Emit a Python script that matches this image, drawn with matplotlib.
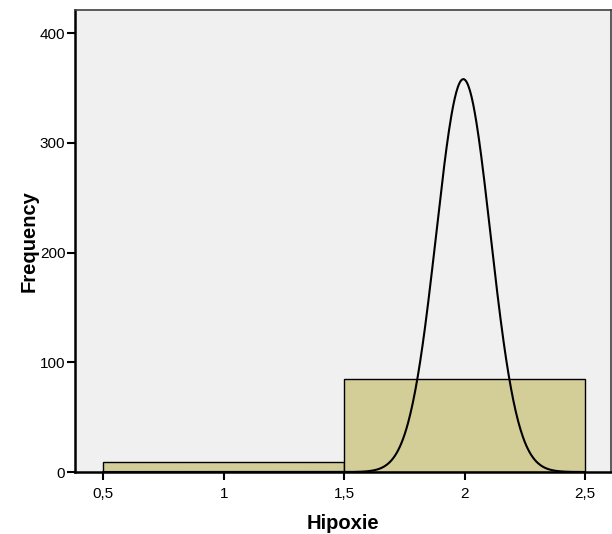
import numpy as np
import matplotlib
matplotlib.use("Agg")
import matplotlib.pyplot as plt

plt.rcParams['font.family'] = ['Liberation Sans', 'DejaVu Sans']

# histogram bins (left edge, right edge) and counts
bin_edges = [0.5, 1.5, 2.5]
counts = [9, 85]

# fitted normal curve parameters (as drawn)
curve_mean = 1.995
curve_sd = 0.1125
curve_peak = 358

x_ticks = [0.5, 1, 1.5, 2, 2.5]
x_ticklabels = ["0,5", "1", "1,5", "2", "2,5"]
y_ticks = [0, 100, 200, 300, 400]

fig = plt.figure(figsize=(6.12, 5.34), dpi=100)
ax = fig.add_axes([75/612, 62/534, 536/612, 462/534])
ax.set_facecolor("#f0f0f0")

widths = np.diff(bin_edges)
ax.bar(bin_edges[:-1], counts, width=widths, align='edge',
       color="#d3ce97", edgecolor="black", linewidth=1.0, zorder=2)

xs = np.linspace(bin_edges[0], bin_edges[-1], 600)
ys = curve_peak * np.exp(-0.5 * ((xs - curve_mean) / curve_sd) ** 2)
ax.plot(xs, ys, color="black", linewidth=1.5, zorder=3)

ax.set_xlim(0.383, 2.608)
ax.set_ylim(0, 421)
ax.set_xticks(x_ticks)
ax.set_xticklabels(x_ticklabels)
ax.set_yticks(y_ticks)
ax.tick_params(axis='both', labelsize=11, width=1.5, length=6, color="black")
ax.tick_params(axis='y', pad=1)
ax.tick_params(axis='x', pad=5)

for s in ['left', 'bottom']:
    ax.spines[s].set_linewidth(1.8)
    ax.spines[s].set_color("black")
for s in ['top', 'right']:
    ax.spines[s].set_linewidth(1.2)
    ax.spines[s].set_color("#404040")

ax.set_xlabel("Hipoxie", fontsize=14.5, fontweight='bold', labelpad=9)
ax.set_ylabel("Frequency", fontsize=14.5, fontweight='bold', labelpad=1)

fig.savefig("out.png", dpi=100)
